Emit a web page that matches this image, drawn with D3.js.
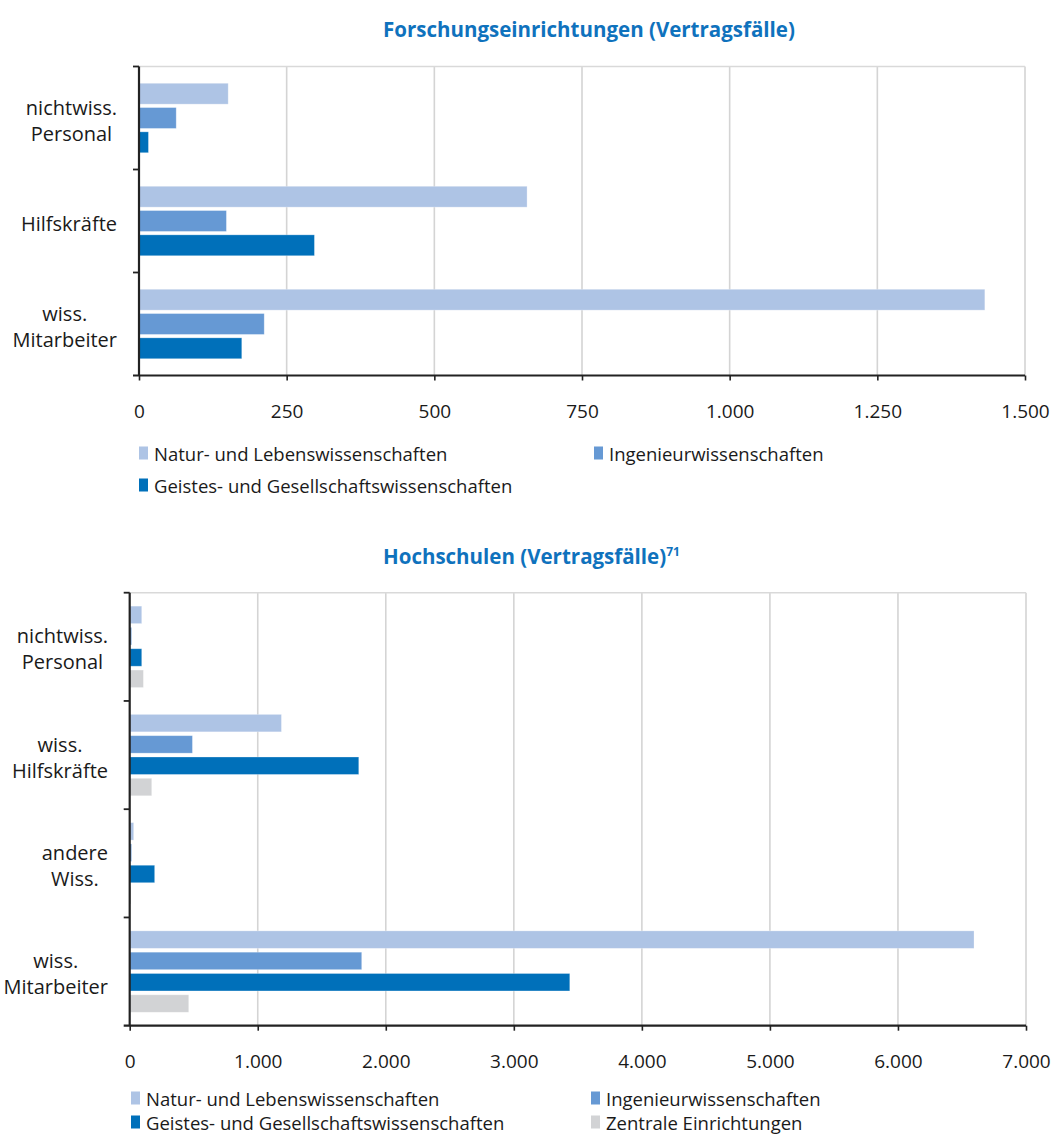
<!DOCTYPE html>
<html>
<head>
<meta charset="utf-8">
<script src="https://cdn.jsdelivr.net/npm/d3@7"></script>
<style>
  html, body { margin: 0; padding: 0; background: #fff; }
  svg { display: block; }
  text { font-family: "Open Sans", "Noto Sans", sans-serif; fill: #1a1a1a; }
</style>
</head>
<body>
<svg id="chart" width="1054" height="1135"></svg>
<script>
// ---- Forschungseinrichtungen (Vertragsfälle) ----
const feCategories = [["nichtwiss.", "Personal"], ["Hilfskräfte"], ["wiss.", "Mitarbeiter"]];
const feNatur = [151, 657, 1432];
const feIngenieur = [63, 148, 212];
const feGeistes = [16, 297, 174];
const feTicks = [0, 250, 500, 750, 1000, 1250, 1500];

// ---- Hochschulen (Vertragsfälle) ----
const hsCategories = [["nichtwiss.", "Personal"], ["wiss.", "Hilfskräfte"], ["andere", "Wiss."], ["wiss.", "Mitarbeiter"]];
const hsNatur = [94, 1185, 31, 6594];
const hsIngenieur = [15, 490, 15, 1812];
const hsGeistes = [94, 1789, 195, 3437];
const hsZentral = [107, 172, 10, 461];
const hsTicks = [0, 1000, 2000, 3000, 4000, 5000, 6000, 7000];

const seriesNames = {
  natur: "Natur- und Lebenswissenschaften",
  ing: "Ingenieurwissenschaften",
  geist: "Geistes- und Gesellschaftswissenschaften",
  zentral: "Zentrale Einrichtungen"
};
const colors = { natur: "#aec4e5", ing: "#6699d4", geist: "#0070ba", zentral: "#d2d3d5" };

const fmt = d3.formatLocale({ decimal: ",", thousands: ".", grouping: [3], currency: ["", "€"] }).format(",d");
const svg = d3.select("#chart");

function drawPanel(opt) {
  const g = svg.append("g");
  const keys = opt.series.map(s => s.key);
  const x = d3.scaleLinear().domain([0, opt.max]).range([opt.left, opt.right]);
  const y0 = d3.scaleBand().domain(d3.range(opt.categories.length)).range([opt.top, opt.bottom]);
  const y1 = d3.scaleBand().domain(keys).range([0, y0.bandwidth()])
    .paddingInner(opt.innerPad).paddingOuter(opt.outerPad);

  // title
  const title = g.append("text")
    .attr("x", opt.titleX).attr("y", opt.titleY)
    .attr("font-size", 20.5).attr("font-weight", 700)
    .style("fill", "#0f72bd")
    .text(opt.title);
  if (opt.titleSup) {
    title.append("tspan").attr("font-size", 12).attr("dy", -8).style("fill", "#0f72bd").text(opt.titleSup);
  }

  // vertical grid lines
  g.append("g").selectAll("line").data(opt.ticks.slice(1)).join("line")
    .attr("x1", d => x(d)).attr("x2", d => x(d))
    .attr("y1", opt.top).attr("y2", opt.bottom)
    .attr("stroke", "#d4d4d4").attr("stroke-width", 1.6);
  // top border
  g.append("line")
    .attr("x1", opt.left).attr("x2", opt.right)
    .attr("y1", opt.top).attr("y2", opt.top)
    .attr("stroke", "#d9d9d9").attr("stroke-width", 1.6);

  // bars
  opt.categories.forEach((cat, i) => {
    const grp = g.append("g").attr("transform", `translate(0,${y0(i)})`);
    grp.selectAll("rect").data(opt.series).join("rect")
      .attr("x", x(0))
      .attr("y", s => y1(s.key))
      .attr("width", s => Math.max(0, x(s.values[i]) - x(0)))
      .attr("height", y1.bandwidth())
      .attr("fill", s => colors[s.key])
      .attr("stroke", "#ffffff").attr("stroke-opacity", 0.35).attr("stroke-width", 0.8);
  });

  // x axis
  const xAxis = d3.axisBottom(x).tickValues(opt.ticks).tickFormat(fmt).tickSize(5).tickPadding(24);
  const ax = g.append("g").attr("transform", `translate(0,${opt.bottom})`).call(xAxis);
  ax.select(".domain").attr("stroke", "#222").attr("stroke-width", 2.2)
    .attr("d", `M${opt.left - 6},0H${opt.right}`);
  ax.selectAll(".tick line").attr("stroke", "#222").attr("stroke-width", 1.6);
  ax.selectAll(".tick text").attr("font-size", 19).attr("font-family", "'Open Sans', sans-serif").style("fill", "#1a1a1a");

  // y axis (category boundaries)
  const yAxisLine = g.append("g");
  yAxisLine.append("line")
    .attr("x1", opt.left).attr("x2", opt.left)
    .attr("y1", opt.top).attr("y2", opt.bottom)
    .attr("stroke", "#222").attr("stroke-width", 2.2);
  const bounds = d3.range(opt.categories.length).map(i => y0(i));
  yAxisLine.selectAll("line.tk").data(bounds).join("line").attr("class", "tk")
    .attr("x1", opt.left - 6).attr("x2", opt.left)
    .attr("y1", d => d).attr("y2", d => d)
    .attr("stroke", "#222").attr("stroke-width", 1.8);

  // category labels: right-aligned block, lines centred within it
  opt.categories.forEach((lines, i) => {
    const cy = y0(i) + y0.bandwidth() / 2 + 2;
    const lh = 26;
    const block = g.append("g");
    const texts = lines.map((ln, j) => block.append("text")
      .attr("font-size", 20)
      .attr("text-anchor", "middle")
      .attr("dominant-baseline", "central")
      .attr("y", cy + (j - (lines.length - 1) / 2) * lh)
      .text(ln));
    const w = d3.max(texts, t => t.node().getComputedTextLength());
    texts.forEach(t => t.attr("x", opt.labelRight - w / 2));
  });

  // legend
  opt.legend.forEach(item => {
    const lg = g.append("g").attr("transform", `translate(${item.x},${item.y})`);
    lg.append("rect").attr("x", 0).attr("y", -6.5).attr("width", 9).attr("height", 13)
      .attr("fill", colors[item.key]);
    lg.append("text").attr("x", 15).attr("y", 0)
      .attr("dominant-baseline", "central")
      .attr("font-size", 18.5)
      .text(seriesNames[item.key]);
  });
}

drawPanel({
  title: "Forschungseinrichtungen (Vertragsfälle)",
  titleX: 383, titleY: 37,
  categories: feCategories,
  series: [
    { key: "natur", values: feNatur },
    { key: "ing", values: feIngenieur },
    { key: "geist", values: feGeistes }
  ],
  max: 1500, ticks: feTicks,
  left: 139, right: 1025, top: 66.5, bottom: 375.5,
  innerPad: 0.14, outerPad: 0.69,
  labelRight: 117,
  legend: [
    { key: "natur", x: 139, y: 453 },
    { key: "ing", x: 594, y: 453 },
    { key: "geist", x: 139, y: 485 }
  ]
});

drawPanel({
  title: "Hochschulen (Vertragsfälle)",
  titleSup: "71",
  titleX: 383, titleY: 564,
  categories: hsCategories,
  series: [
    { key: "natur", values: hsNatur },
    { key: "ing", values: hsIngenieur },
    { key: "geist", values: hsGeistes },
    { key: "zentral", values: hsZentral }
  ],
  max: 7000, ticks: hsTicks,
  left: 129.7, right: 1026, top: 592.7, bottom: 1025.7,
  innerPad: 0.18, outerPad: 0.63,
  labelRight: 108,
  legend: [
    { key: "natur", x: 131, y: 1098 },
    { key: "ing", x: 591, y: 1098 },
    { key: "geist", x: 131, y: 1122 },
    { key: "zentral", x: 591, y: 1122 }
  ]
});
</script>
</body>
</html>
